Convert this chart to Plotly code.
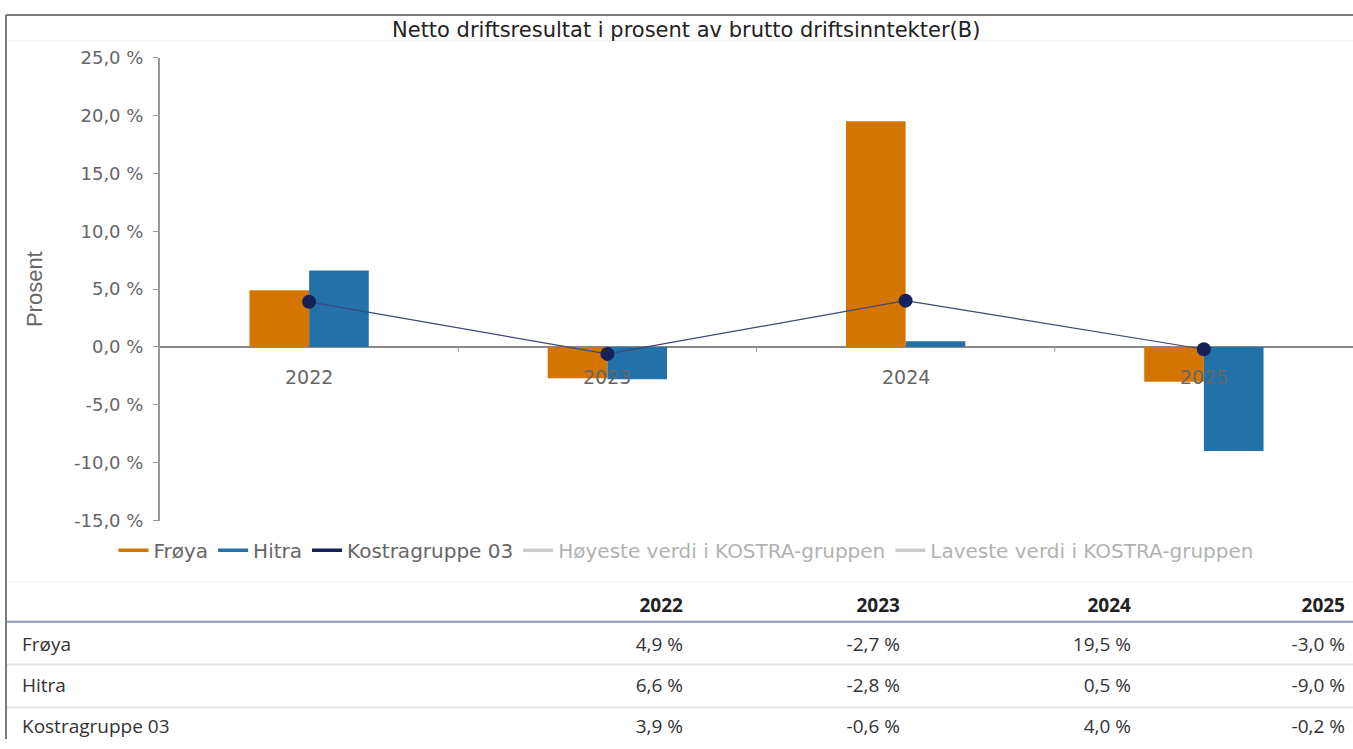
import plotly.graph_objects as go

W, H = 1353, 749

title_text = "Netto driftsresultat i prosent av brutto driftsinntekter(B)"
years = ["2022", "2023", "2024", "2025"]
froya = [4.9, -2.7, 19.5, -3.0]
hitra = [6.6, -2.8, 0.5, -9.0]
kostra = [3.9, -0.6, 4.0, -0.2]
series_names = ["Frøya", "Hitra", "Kostragruppe 03",
                "Høyeste verdi i KOSTRA-gruppen", "Laveste verdi i KOSTRA-gruppen"]
ytick_vals = [25, 20, 15, 10, 5, 0, -5, -10, -15]
ytick_text = ["25,0 %", "20,0 %", "15,0 %", "10,0 %", "5,0 %", "0,0 %", "-5,0 %", "-10,0 %", "-15,0 %"]

C_FROYA = "#d47500"
C_HITRA = "#2271a8"
C_KOSTRA = "#15215a"
C_GREY = "#9a9a9a"
AX_FONT = "DejaVu Sans"

# observed rendering: figure drawn 733 px tall starting 8 px from the top
Y_OFF, H_EFF = 8.0, 733.0


def px_x(p):
    return p / W


def px_y(p):
    return 1 - (p - Y_OFF) / H_EFF


def fmt(v):
    return ("%.1f" % v).replace(".", ",") + " %"


fig = go.Figure()

fig.add_trace(go.Bar(x=years, y=froya, name=series_names[0], marker_color=C_FROYA,
                     marker_line_width=0, showlegend=False))
fig.add_trace(go.Bar(x=years, y=hitra, name=series_names[1], marker_color=C_HITRA,
                     marker_line_width=0, showlegend=False))
fig.add_trace(go.Scatter(x=years, y=kostra, name=series_names[2], mode="lines+markers",
                         line=dict(color="#3f4878", width=1.2),
                         marker=dict(color=C_KOSTRA, size=14), showlegend=False))

# legend entries (line symbols)
legend_colors = [C_FROYA, C_HITRA, C_KOSTRA, C_GREY, C_GREY]
for i, nm in enumerate(series_names):
    fig.add_trace(go.Scatter(x=[None], y=[None], mode="lines", name=nm,
                             line=dict(color=legend_colors[i], width=3.5),
                             visible=True if i < 3 else "legendonly",
                             hoverinfo="skip"))

# table
header_vals = [""] + ["<b>%s</b>" % y for y in years]
row_labels = series_names[:3]
cols = [row_labels] + [[fmt(froya[i]), fmt(hitra[i]), fmt(kostra[i])] for i in range(4)]
fig.add_trace(go.Table(
    domain=dict(x=[px_x(14), 1.0], y=[0, px_y(585)]),
    columnwidth=[461, 216, 217, 231, 214],
    header=dict(values=header_vals, align=["left", "right", "right", "right", "right"],
                fill_color="white", line_color="rgba(0,0,0,0)", height=45,
                font=dict(family="Open Sans", size=19, color="#222")),
    cells=dict(values=cols, align=["left", "right", "right", "right", "right"],
               fill_color="white", line_color="rgba(0,0,0,0)", height=41,
               font=dict(family="Open Sans", size=19, color="#333")),
))

shapes = []
# frame
shapes.append(dict(type="line", xref="paper", yref="paper", x0=px_x(6), x1=1, y0=px_y(12), y1=px_y(12),
                   line=dict(color="#7a7a7a", width=2)))
shapes.append(dict(type="line", xref="paper", yref="paper", x0=px_x(6), x1=px_x(6), y0=px_y(12), y1=0,
                   line=dict(color="#7a7a7a", width=2)))
shapes.append(dict(type="line", xref="paper", yref="paper", x0=px_x(7), x1=1, y0=px_y(38), y1=px_y(38),
                   line=dict(color="#f0f0f0", width=1)))
shapes.append(dict(type="line", xref="paper", yref="paper", x0=px_x(7), x1=1, y0=px_y(583), y1=px_y(583),
                   line=dict(color="#f2f2f2", width=1)))
# table lines
shapes.append(dict(type="line", xref="paper", yref="paper", x0=px_x(7), x1=1, y0=px_y(623), y1=px_y(623),
                   line=dict(color="#8a96b8", width=2)))
for yy in (666, 709):
    shapes.append(dict(type="line", xref="paper", yref="paper", x0=px_x(7), x1=1, y0=px_y(yy), y1=px_y(yy),
                       line=dict(color="#e4e4e4", width=2)))
# small ticks on zero line at category boundaries
for b in range(len(years) - 1):
    shapes.append(dict(type="line", xref="x", yref="y", x0=b + 0.5, x1=b + 0.5,
                       ysizemode="pixel", yanchor=0, y0=0, y1=-5,
                       line=dict(color="#999", width=1)))

annotations = [
    dict(text=title_text, xref="paper", yref="paper", x=px_x(686), y=px_y(27), showarrow=False,
         xanchor="center", yanchor="middle", font=dict(family=AX_FONT, size=21, color="#222")),
    dict(text="Prosent", xref="paper", yref="paper", x=px_x(34), y=px_y(288), showarrow=False,
         textangle=-90, xanchor="center", yanchor="middle",
         font=dict(family="Liberation Sans", size=22, color="#666")),
]
for i, yr in enumerate(years):
    annotations.append(dict(text=yr, xref="x", yref="y", x=i, y=0, yshift=-30, showarrow=False,
                            xanchor="center", yanchor="middle",
                            font=dict(family=AX_FONT, size=19, color="#666")))

fig.update_layout(
    width=W, height=H,
    margin=dict(l=0, r=0, t=0, b=0),
    paper_bgcolor="white", plot_bgcolor="white",
    barmode="group", bargap=0.6, bargroupgap=0,
    xaxis=dict(type="category", domain=[px_x(160), 1.0], showticklabels=False, showline=False,
               showgrid=False, zeroline=False, ticks="", fixedrange=True, range=[-0.5, 3.5]),
    yaxis=dict(domain=[px_y(521), px_y(55)], range=[-15, 25], tickvals=ytick_vals, ticktext=ytick_text,
               showline=True, linecolor="#999", linewidth=2, ticks="outside", ticklen=5,
               tickcolor="#999", showgrid=False, zeroline=True, zerolinecolor="#888", zerolinewidth=1.5,
               tickfont=dict(family=AX_FONT, size=18, color="#666"), ticklabelstandoff=6,
               fixedrange=True),
    legend=dict(orientation="h", x=px_x(686), xanchor="center", y=px_y(551), yanchor="middle",
                font=dict(family=AX_FONT, size=20, color="#666"), bgcolor="rgba(0,0,0,0)",
                itemwidth=30, traceorder="normal"),
    shapes=shapes,
    annotations=annotations,
    showlegend=True,
)

post = ("var gd=document.getElementById('{plot_id}');"
        "document.documentElement.style.margin='0px';document.documentElement.style.overflow='hidden';"
        "document.body.style.margin='0px';document.body.style.padding='0px';"
        "document.body.style.overflow='hidden';"
        "gd.style.position='fixed';gd.style.left='0px';gd.style.top='0px';")

fig.write_html("out.html", config={"displayModeBar": False}, post_script=post)
